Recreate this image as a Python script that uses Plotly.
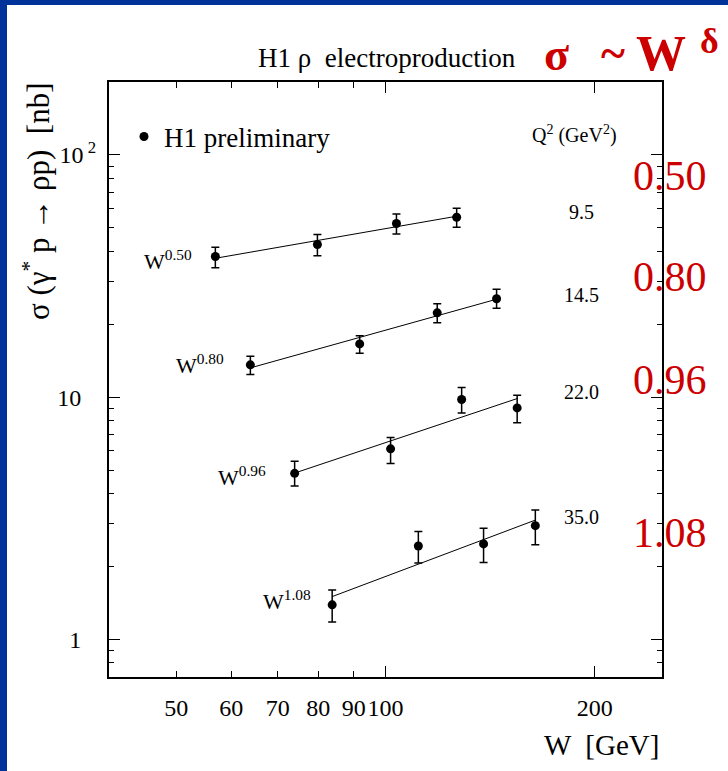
import numpy as np
import plotly.graph_objects as go

# ---------------- data ----------------
q2_labels = ["9.5", "14.5", "22.0", "35.0"]
deltas = [0.50, 0.80, 0.96, 1.08]
delta_labels = ["0.50", "0.80", "0.96", "1.08"]
w_labels = ["0.50", "0.80", "0.96", "1.08"]

w_q1 = [56.9, 79.8, 103.7, 126.6]
sig_q1 = [38.1, 42.7, 52.1, 55.3]
errp_q1 = [3.5, 4.2, 5.0, 4.9]
errm_q1 = [3.9, 4.3, 4.9, 5.0]

w_q2 = [63.9, 91.8, 118.7, 144.5]
sig_q2 = [13.6, 16.6, 22.3, 25.5]
errp_q2 = [1.15, 1.35, 2.0, 2.4]
errm_q2 = [1.2, 1.4, 2.0, 2.2]

w_q3 = [74.0, 101.7, 128.7, 154.7]
sig_q3 = [4.85, 6.12, 9.78, 9.03]
errp_q3 = [0.59, 0.70, 1.18, 1.16]
errm_q3 = [0.55, 0.79, 1.17, 1.19]

w_q4 = [83.8, 111.5, 138.4, 164.3]
sig_q4 = [1.39, 2.43, 2.48, 2.95]
errp_q4 = [0.21, 0.36, 0.40, 0.47]
errm_q4 = [0.21, 0.36, 0.40, 0.49]

x_tickvals = [50, 60, 70, 80, 90, 100, 200]
x_ticktext = ["50", "60", "70", "80", "90", "100", "200"]
x_long_ticks = [100, 200]
y_tickvals = [1, 10]
y_ticktext = ["1", "10"]
y_top_tick = [100]
y_top_text = ["10<sup> 2</sup>"]
y_minor = [0.8, 0.9, 2, 3, 4, 5, 6, 7, 8, 9, 20, 30, 40, 50, 60, 70, 80, 90]

series = [
    (w_q1, sig_q1, errp_q1, errm_q1),
    (w_q2, sig_q2, errp_q2, errm_q2),
    (w_q3, sig_q3, errp_q3, errm_q3),
    (w_q4, sig_q4, errp_q4, errm_q4),
]

# ---------------- layout geometry ----------------
W, H = 728, 771
ML, MR, MT, MB = 109, 66, 82, 94
PW, PH = W - ML - MR, H - MT - MB


def px(x):
    return (x - ML) / PW


def py(y):
    return (H - MB - y) / PH


SERIF = "Liberation Serif, Times New Roman, serif"
RED = "#cc0000"
BLUE = "#003399"

fig = go.Figure()

# fit lines sigma = A * W^delta (normalisation from the points, delta fixed)
for (w, s, ep, em), d in zip(series, deltas):
    w = np.array(w)
    s = np.array(s)
    logA = np.mean(np.log10(s) - d * np.log10(w))
    xl = np.array([w[0], w[-1]])
    yl = 10 ** logA * xl ** d
    fig.add_trace(go.Scatter(x=xl, y=yl, mode="lines",
                             line=dict(color="black", width=1),
                             showlegend=False, hoverinfo="skip"))

for i, (w, s, ep, em) in enumerate(series):
    fig.add_trace(go.Scatter(
        x=w, y=s, mode="markers",
        marker=dict(color="black", size=9, symbol="circle"),
        error_y=dict(type="data", array=ep, arrayminus=em, symmetric=False,
                     color="black", thickness=1.5, width=4),
        name="H1 preliminary", showlegend=(i == 0)))

# empty trace so that the overlay axes (long major ticks, 10^2 label) exist
fig.add_trace(go.Scatter(x=[], y=[], xaxis="x2", yaxis="y2",
                         showlegend=False, hoverinfo="skip"))

axis_common = dict(showgrid=False, zeroline=False, showline=True,
                   linecolor="black", linewidth=2, ticks="inside",
                   tickcolor="black", tickwidth=1.2, mirror="ticks")

XR = [np.log10(40), np.log10(250)]
YR = [np.log10(0.7), np.log10(200)]

fig.update_layout(
    width=W, height=H,
    margin=dict(l=ML, r=MR, t=MT, b=MB, pad=0),
    paper_bgcolor="white", plot_bgcolor="white",
    font=dict(family=SERIF, color="black", size=24),
    xaxis=dict(type="log", range=XR, tickangle=0,
               tickmode="array", tickvals=x_tickvals, ticktext=x_ticktext,
               ticklen=6, tickfont=dict(size=24), ticklabelstandoff=8,
               **axis_common),
    xaxis2=dict(type="log", range=XR, tickangle=0,
                overlaying="x", anchor="y2", side="bottom",
                tickmode="array", tickvals=x_long_ticks, ticklen=11,
                showticklabels=False, **axis_common),
    yaxis=dict(type="log", range=YR,
               tickmode="array", tickvals=y_tickvals, ticktext=y_ticktext,
               ticklen=11, tickfont=dict(size=24), ticklabelstandoff=21,
               minor=dict(ticks="inside", ticklen=5, tickcolor="black",
                          tickwidth=1.2, tickmode="array", tickvals=y_minor,
                          showgrid=False),
               **axis_common),
    yaxis2=dict(type="log", range=YR, overlaying="y", anchor="x2", side="left",
                tickmode="array", tickvals=y_top_tick, ticktext=y_top_text,
                ticklen=11, tickfont=dict(size=24), ticklabelstandoff=6,
                **axis_common),
    legend=dict(x=px(124), y=py(137), xanchor="left", yanchor="middle",
                bgcolor="rgba(0,0,0,0)", font=dict(size=27, family=SERIF)),
    showlegend=True,
)

ann = []


def add(text, x, y, size, color="black", xanchor="center", yanchor="middle",
        angle=0):
    ann.append(dict(text=text, x=px(x), y=py(y), xref="paper", yref="paper",
                    showarrow=False, xanchor=xanchor, yanchor=yanchor,
                    textangle=angle,
                    font=dict(size=size, color=color, family=SERIF)))


add("H1 ρ  electroproduction", 387, 58, 27)
add("<b>σ</b>", 556, 55, 46, RED)
add("<b>~</b>", 613, 54, 46, RED)
add("<b>W</b>", 661, 53, 50, RED)
add("<b>δ</b>", 709, 41, 36, RED)

# axis titles
add("σ (γ<sup>*</sup> p → ρp)  [nb]", 37, 201, 31, angle=-90)
add("W  [GeV]", 661, 745, 29, xanchor="right")

# Q^2 column
add("Q<sup>2</sup> (GeV<sup>2</sup>)", 574, 134, 20)
for lab, yy in zip(q2_labels, [212, 295, 392, 517]):
    add(lab, 581, yy, 20)

# exponents on the right
for lab, yy in zip(delta_labels, [176, 277, 380, 533]):
    add(lab, 670, yy, 42, RED)

# W^delta labels next to the fits
for lab, xx, yy in zip(w_labels, [168, 200, 242, 287], [260, 364, 476, 600]):
    add("W<sup>" + lab + "</sup>", xx, yy, 22)

fig.update_layout(annotations=ann)

# blue frame strips (top and left)
fig.update_layout(shapes=[
    dict(type="rect", xref="paper", yref="paper", x0=px(0), x1=px(7),
         y0=py(H), y1=py(0), fillcolor=BLUE, line=dict(width=0), layer="below"),
    dict(type="rect", xref="paper", yref="paper", x0=px(0), x1=px(W),
         y0=py(5), y1=py(0), fillcolor=BLUE, line=dict(width=0), layer="below"),
])

fig.write_html("out.html")
